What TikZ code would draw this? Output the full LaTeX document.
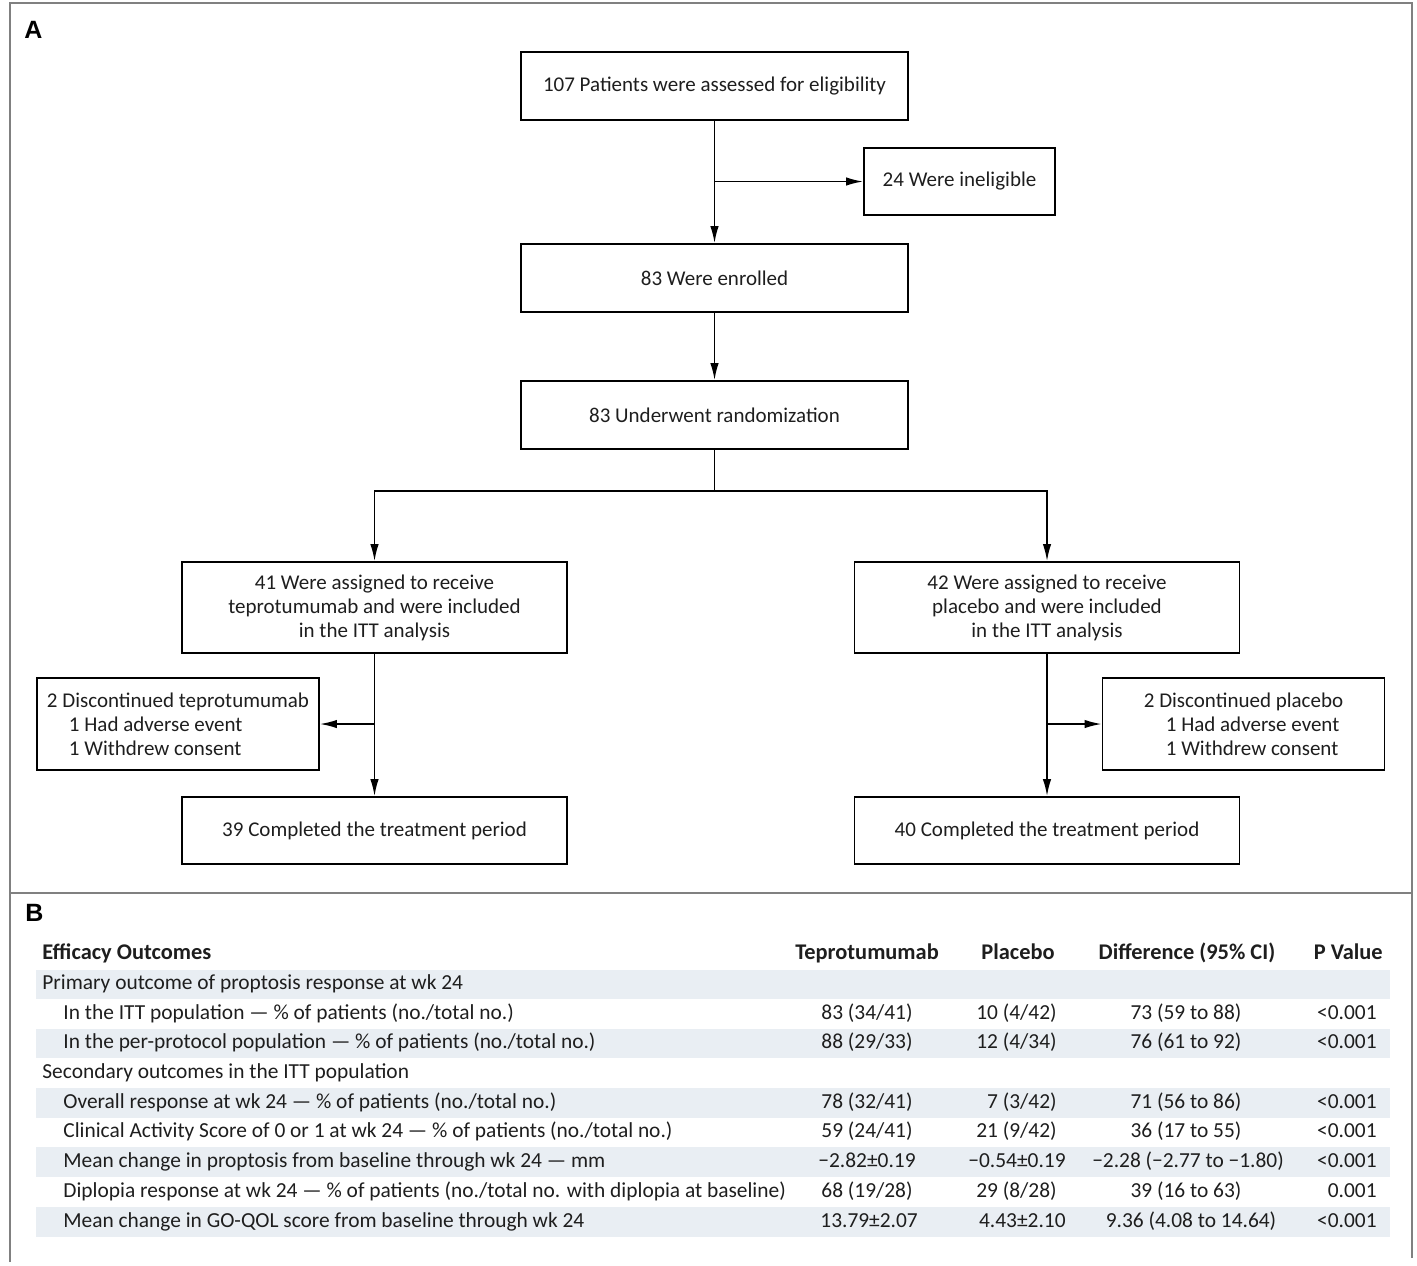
\documentclass[tikz,border=0pt]{standalone}
\usepackage{fontspec}
\setmainfont{Carlito}
\newfontfamily\labfont{Liberation Sans}
\usetikzlibrary{arrows.meta}
\definecolor{framegray}{HTML}{808080}
\definecolor{ink}{HTML}{1E1E1E}
\definecolor{rowshade}{HTML}{E9EEF3}
\tikzset{
  x=0.5pt, y=-0.5pt,
  box/.style={draw=black, line width=0.9pt, inner sep=0pt, align=center, text=ink,
    font=\fontsize{10.5}{12}\selectfont},
  wide/.style={box, minimum width=193.5pt, minimum height=34pt},
  arm/.style={box, minimum width=192.5pt},
  side/.style={box, minimum width=141pt, minimum height=46pt, align=left},
  arr/.style={draw=black, line width=0.8pt, -{Latex[length=8.5pt,width=4.2pt]}},
  conn/.style={draw=black, line width=0.8pt},
  tfont/.style={font=\fontsize{10.7}{12}\selectfont, text=ink, inner sep=0pt},
  lbl/.style={tfont, anchor=base west},
  cval/.style={tfont, anchor=base},
  rval/.style={tfont, anchor=base east},
  hdr/.style={tfont, font=\fontsize{11.2}{12}\selectfont\bfseries, anchor=base},
  panel/.style={font=\labfont\bfseries\fontsize{12.5}{14}\selectfont, anchor=base west, inner sep=0pt},
}
\begin{document}
\begin{tikzpicture}
\useasboundingbox (0,0) rectangle (1417,1265);
% frame
\draw[framegray, line width=1.3pt] (10,1262) -- (10,3) -- (1412,3) -- (1412,1258);
\draw[framegray, line width=1.3pt] (10,893) -- (1412,893);
\node[panel] (labA) at (24,38) {A};
\node[panel] (labB) at (25,921) {B};

% flowchart
\node[wide] (b1) at (714.5,86) {107 Patients were assessed for eligibility};
\node[box, minimum width=95.5pt, minimum height=33.5pt] (inel) at (959.5,181.5) {24 Were ineligible};
\node[wide] (enr) at (714.5,278) {83 Were enrolled};
\node[wide] (rand) at (714.5,415) {83 Underwent randomization};
\node[arm, minimum height=45.5pt] (la) at (374.5,607.5) {41 Were assigned to receive\\teprotumumab and were included\\in the ITT analysis};
\node[arm, minimum height=45.5pt] (ra) at (1047,607.5) {42 Were assigned to receive\\placebo and were included\\in the ITT analysis};
\node[side] (ld) at (178,724) {2 Discontinued teprotumumab\\\hspace*{11pt}1 Had adverse event\\\hspace*{11pt}1 Withdrew consent};
\node[side] (rd) at (1243.5,724) {2 Discontinued placebo\\\hspace*{11pt}1 Had adverse event\\\hspace*{11pt}1 Withdrew consent};
\node[arm, minimum height=33.5pt] (lc) at (374.5,830.5) {39 Completed the treatment period};
\node[arm, minimum height=33.5pt] (rc) at (1047,830.5) {40 Completed the treatment period};

\draw[arr] (b1.south) -- (enr.north);
\draw[arr] (b1.south |- inel.west) -- (inel.west);
\draw[arr] (enr.south) -- (rand.north);
\coordinate (split) at (714.5,491);
\draw[conn] (rand.south) -- (split);
\draw[arr] (split) -| (la.north);
\draw[arr] (split) -| (ra.north);
\draw[arr] (la.south) -- (lc.north);
\draw[arr] (la.south |- ld.east) -- (ld.east);
\draw[arr] (ra.south) -- (rc.north);
\draw[arr] (ra.south |- rd.west) -- (rd.west);

% table shading
\foreach \c in {984.5,1043.5,1103,1162,1222}
  \fill[rowshade] (36,\c-14.7) rectangle (1390,\c+14.7);

% header
\node[hdr, anchor=base west] (h0) at (42,959) {Efficacy Outcomes};
\node[hdr] (h1) at (867,959) {Teprotumumab};
\node[hdr] (h2) at (1018,959) {Placebo};
\node[hdr] (h3) at (1187,959) {Difference (95\% CI)};
\node[hdr, anchor=base east] (h4) at (1383,959) {P Value};

% rows
\node[lbl] (r1) at (42,989.5) {Primary outcome of proptosis response at wk 24};

\node[lbl] (r2) at (63,1019) {In the ITT population — \% of patients (no./total no.)};
\node[lbl] (r2a) at (821,1019) {83 (34/41)};
\node[rval] (r2b) at (1057,1019) {10 (4/42)};
\node[cval] (r2c) at (1186,1019) {73 (59 to 88)};
\node[rval] (r2d) at (1377,1019) {<0.001};

\node[lbl] (r3) at (63,1048.5) {In the per-protocol population — \% of patients (no./total no.)};
\node[lbl] (r3a) at (821,1048.5) {88 (29/33)};
\node[rval] (r3b) at (1057,1048.5) {12 (4/34)};
\node[cval] (r3c) at (1186,1048.5) {76 (61 to 92)};
\node[rval] (r3d) at (1377,1048.5) {<0.001};

\node[lbl] (r4) at (42,1078) {Secondary outcomes in the ITT population};

\node[lbl] (r5) at (63,1108) {Overall response at wk 24 — \% of patients (no./total no.)};
\node[lbl] (r5a) at (821,1108) {78 (32/41)};
\node[rval] (r5b) at (1057,1108) {7 (3/42)};
\node[cval] (r5c) at (1186,1108) {71 (56 to 86)};
\node[rval] (r5d) at (1377,1108) {<0.001};

\node[lbl] (r6) at (63,1137.5) {Clinical Activity Score of 0 or 1 at wk 24 — \% of patients (no./total no.)};
\node[lbl] (r6a) at (821,1137.5) {59 (24/41)};
\node[rval] (r6b) at (1057,1137.5) {21 (9/42)};
\node[cval] (r6c) at (1186,1137.5) {36 (17 to 55)};
\node[rval] (r6d) at (1377,1137.5) {<0.001};

\node[lbl] (r7) at (63,1167) {Mean change in proptosis from baseline through wk 24 — mm};
\node[lbl] (r7a) at (818,1167) {−2.82±0.19};
\node[rval] (r7b) at (1066,1167) {−0.54±0.19};
\node[cval] (r7c) at (1188,1167) {−2.28 (−2.77 to −1.80)};
\node[rval] (r7d) at (1377,1167) {<0.001};

\node[lbl] (r8) at (63,1197) {Diplopia response at wk 24 — \% of patients (no./total no. with diplopia at baseline)};
\node[lbl] (r8a) at (821,1197) {68 (19/28)};
\node[rval] (r8b) at (1057,1197) {29 (8/28)};
\node[cval] (r8c) at (1186,1197) {39 (16 to 63)};
\node[rval] (r8d) at (1377,1197) {0.001};

\node[lbl] (r9) at (63,1227) {Mean change in GO-QOL score from baseline through wk 24};
\node[lbl] (r9a) at (820,1227) {13.79±2.07};
\node[rval] (r9b) at (1066,1227) {4.43±2.10};
\node[cval] (r9c) at (1191,1227) {9.36 (4.08 to 14.64)};
\node[rval] (r9d) at (1377,1227) {<0.001};
\end{tikzpicture}
\end{document}
